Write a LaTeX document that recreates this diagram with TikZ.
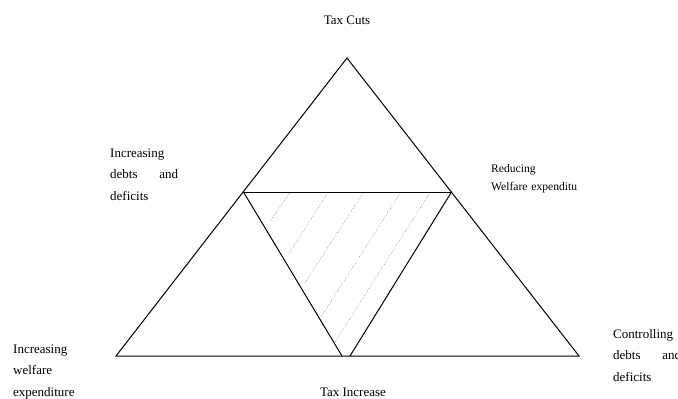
\documentclass[tikz,border=0pt]{standalone}
\usepackage{fontspec}
\setmainfont{Liberation Serif}
\usetikzlibrary{positioning}
\definecolor{hatchGray}{HTML}{6E6E6E}

\begin{document}
\begin{tikzpicture}[x=1pt, y=-1pt,
  edge/.style={line width=1pt, black, line join=miter},
  hatch/.style={hatchGray, dotted, line width=0.6pt},
  lbl/.style={font=\fontsize{13}{21.8}\selectfont, inner sep=0pt, align=left, anchor=base west},
  small/.style={font=\fontsize{11.6}{18.4}\selectfont, inner sep=0pt, align=left, anchor=base west}]
  \useasboundingbox (0,0) rectangle (678,399);
  \clip (0,0) rectangle (678,399);

  % outer triangle
  \coordinate (top) at (347,58);
  \coordinate (bl) at (116,356);
  \coordinate (br) at (579,356);
  % inner triangle
  \coordinate (il) at (243.5,192);
  \coordinate (ir) at (451.5,192);
  \coordinate (ib1) at (342,356);
  \coordinate (ib2) at (350,356);

  \draw[edge] (top) -- (bl) -- (br) -- cycle;
  \draw[edge] (il) -- (ir);
  \draw[edge] (il) -- (ib1);
  \draw[edge] (ir) -- (ib2);

  % shading
  \foreach \xa/\ya/\xb/\yb in {289/194/270/221, 327/194/288/255, 363/193/305/283,
      399/195/321/317, 429/194/335/342}
    \draw[hatch] (\xa,\ya) -- (\xb,\yb);

  \node[font=\fontsize{13}{22}\selectfont, inner sep=0pt, anchor=base] (cuts) at (347,24) {Tax Cuts};
  \node[font=\fontsize{13}{22}\selectfont, inner sep=0pt, anchor=base] (incr) at (353,396) {Tax Increase};

  \node[lbl, text width=68pt] (debtsUp) at (110,157) {Increasing\\ debts\hfill and\\ deficits};
  \node[small, text width=100pt] (reduce) at (491,172.5) {Reducing\\ Welfare expenditu};
  \node[lbl, text width=90pt] (welfareUp) at (13,353) {Increasing\\ welfare\\ expenditure};
  \node[lbl, text width=68pt] (control) at (613,338) {Controlling\\ debts\hfill and\\ deficits};
\end{tikzpicture}
\end{document}
